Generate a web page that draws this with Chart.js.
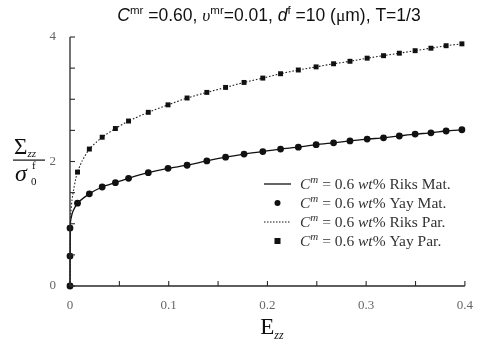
<!DOCTYPE html>
<html><head><meta charset="utf-8">
<script src="https://cdn.jsdelivr.net/npm/chart.js@4/dist/chart.umd.min.js"></script>
<style>html,body{margin:0;padding:0;background:#fff}#wrap{width:485px;height:344px;position:relative}</style>
</head><body><div id="wrap"><canvas id="c" width="485" height="344"></canvas></div>
<script>
// ---- data ----
const markerE = [0, 0, 0, 0.0076, 0.0196, 0.0326, 0.046, 0.0593, 0.0793, 0.0993, 0.1186, 0.1386, 0.1576, 0.1763, 0.1953, 0.2133, 0.2313, 0.2493, 0.267, 0.2836, 0.301, 0.3176, 0.3336, 0.3496, 0.3656, 0.381, 0.397];
const yayMat = [0, 0.48, 0.93, 1.33, 1.48, 1.59, 1.66, 1.73, 1.82, 1.89, 1.94, 2.01, 2.07, 2.12, 2.16, 2.20, 2.23, 2.27, 2.30, 2.33, 2.36, 2.38, 2.41, 2.44, 2.46, 2.49, 2.51];
const yayPar = [0, 0.48, 0.93, 1.83, 2.20, 2.39, 2.53, 2.65, 2.79, 2.91, 3.02, 3.11, 3.19, 3.27, 3.34, 3.41, 3.47, 3.52, 3.57, 3.61, 3.66, 3.70, 3.74, 3.78, 3.82, 3.86, 3.89];
const riksMatE = [0, 0.0005, 0.0015, 0.003, 0.0076, 0.0196, 0.0326, 0.046, 0.0593, 0.0793, 0.0993, 0.1186, 0.1386, 0.1576, 0.1763, 0.1953, 0.2133, 0.2313, 0.2493, 0.267, 0.2836, 0.301, 0.3176, 0.3336, 0.3496, 0.3656, 0.381, 0.397];
const riksMat = [0, 1.03, 1.12, 1.20, 1.33, 1.48, 1.59, 1.66, 1.73, 1.82, 1.89, 1.94, 2.01, 2.07, 2.12, 2.16, 2.20, 2.23, 2.27, 2.30, 2.33, 2.36, 2.38, 2.41, 2.44, 2.46, 2.49, 2.51];
const riksParE = [0, 0.0005, 0.001, 0.002, 0.0036, 0.0055, 0.0076, 0.012, 0.0196, 0.0326, 0.046, 0.0593, 0.0793, 0.0993, 0.1186, 0.1386, 0.1576, 0.1763, 0.1953, 0.2133, 0.2313, 0.2493, 0.267, 0.2836, 0.301, 0.3176, 0.3336, 0.3496, 0.3656, 0.381, 0.397];
const riksPar = [0, 1.03, 1.20, 1.38, 1.54, 1.70, 1.83, 2.00, 2.20, 2.39, 2.53, 2.65, 2.79, 2.91, 3.02, 3.11, 3.19, 3.27, 3.34, 3.41, 3.47, 3.52, 3.57, 3.61, 3.66, 3.70, 3.74, 3.78, 3.82, 3.86, 3.89];
const xTickLabels = ['0', '0.1', '0.2', '0.3', '0.4'];
const yTickLabels = ['0', '2', '4'];
const seriesNames = ['Riks Mat.', 'Yay Mat.', 'Riks Par.', 'Yay Par.'];

const pts = (xs, ys) => xs.map((x, i) => ({x: x, y: ys[i]}));
const SERIF = '"Liberation Serif", "DejaVu Serif", serif';
const SANS = '"Liberation Sans", Arial, sans-serif';

function drawRich(ctx, segs, x, y, align) {
  let w = 0;
  segs.forEach(s => { ctx.font = s.font; s.w = ctx.measureText(s.t).width; w += s.w + (s.dx || 0); });
  let cx = align === 'center' ? x - w / 2 : x;
  segs.forEach(s => {
    ctx.font = s.font;
    ctx.fillText(s.t, cx + (s.dx || 0), y + (s.dy || 0));
    cx += s.w + (s.dx || 0);
  });
  return w;
}

const decor = {
  id: 'decor',
  afterDraw(chart) {
    const ctx = chart.ctx;
    const xs = chart.scales.x, ys = chart.scales.y;
    const L = xs.left, R = xs.right, T = ys.top, B = ys.bottom;
    ctx.save();
    // axes
    ctx.strokeStyle = '#2a2a2a'; ctx.lineWidth = 1.3;
    ctx.beginPath(); ctx.moveTo(L, T); ctx.lineTo(L, B); ctx.lineTo(R, B); ctx.stroke();
    ctx.lineWidth = 1.1;
    xs.ticks.forEach(t => { const p = xs.getPixelForValue(t.value); ctx.beginPath(); ctx.moveTo(p, B); ctx.lineTo(p, B - 5); ctx.stroke(); });
    ys.ticks.forEach(t => { const p = ys.getPixelForValue(t.value); ctx.beginPath(); ctx.moveTo(L, p); ctx.lineTo(L + 5, p); ctx.stroke(); });

    // title
    ctx.fillStyle = '#111'; ctx.textBaseline = 'alphabetic';
    const f = '17.5px ' + SANS, fi = 'italic 17.5px ' + SANS, fs = '11.5px ' + SANS;
    drawRich(ctx, [
      {t: 'C', font: fi}, {t: 'mr', font: fs, dy: -7}, {t: ' =0.60, ', font: f},
      {t: 'υ', font: 'italic 17.5px ' + SERIF}, {t: 'mr', font: fs, dy: -7}, {t: '=0.01, ', font: f},
      {t: 'd', font: fi}, {t: 'f', font: fs, dy: -7}, {t: ' =10 (', font: f},
      {t: 'μ', font: '17.5px ' + SERIF}, {t: 'm), T=1/3', font: f}
    ], 269, 21, 'center');

    // y axis label (fraction)
    ctx.fillStyle = '#111';
    drawRich(ctx, [{t: 'Σ', font: '23px ' + SERIF}, {t: 'zz', font: 'italic 11px ' + SERIF, dy: 3}], 14, 154, 'left');
    ctx.fillRect(13, 159.5, 32, 1.2);
    drawRich(ctx, [{t: 'σ', font: 'italic 24px ' + SERIF}], 15, 181, 'left');
    ctx.font = '11px ' + SERIF; ctx.fillText('f', 32, 169); ctx.fillText('0', 31, 185);

    // x axis label
    drawRich(ctx, [{t: 'E', font: '23px ' + SERIF}, {t: 'zz', font: 'italic 12px ' + SERIF, dy: 5}], 272, 334, 'center');

    // legend
    const lx0 = 264, lx1 = 291, tx = 300;
    const rows = [184, 203, 222, 241];
    ctx.strokeStyle = '#111'; ctx.fillStyle = '#111';
    ctx.lineWidth = 1.3; ctx.setLineDash([]);
    ctx.beginPath(); ctx.moveTo(lx0, rows[0]); ctx.lineTo(lx1, rows[0]); ctx.stroke();
    ctx.beginPath(); ctx.arc((lx0 + lx1) / 2, rows[1], 3, 0, Math.PI * 2); ctx.fill();
    ctx.lineWidth = 1; ctx.setLineDash([1.5, 1.5]);
    ctx.beginPath(); ctx.moveTo(lx0, rows[2]); ctx.lineTo(lx1, rows[2]); ctx.stroke();
    ctx.setLineDash([]);
    ctx.fillRect((lx0 + lx1) / 2 - 3, rows[3] - 3, 6, 6);
    ctx.fillStyle = '#333'; ctx.textBaseline = 'middle';
    const lf = '15.5px ' + SERIF, lfi = 'italic 15.5px ' + SERIF;
    seriesNames.forEach((n, i) => {
      drawRich(ctx, [
        {t: 'C', font: lfi}, {t: 'm', font: 'italic 11px ' + SERIF, dy: -5}, {t: ' = 0.6 ', font: lf},
        {t: 'wt', font: lfi}, {t: '% ' + n, font: lf}
      ], tx, rows[i] + 1, 'left');
    });
    ctx.restore();
  }
};

new Chart(document.getElementById('c'), {
  type: 'scatter',
  data: {
    datasets: [
      {label: seriesNames[1], data: pts(markerE, yayMat), showLine: false, clip: false, pointStyle: 'circle', pointRadius: 3.4, backgroundColor: '#111', borderColor: '#111', borderWidth: 0},
      {label: seriesNames[3], data: pts(markerE, yayPar), showLine: false, clip: false, pointStyle: 'rect', pointRadius: 3.5, backgroundColor: '#111', borderColor: '#111', borderWidth: 0},
      {label: seriesNames[0], data: pts(riksMatE, riksMat), showLine: true, clip: false, pointRadius: 0, borderColor: '#111', borderWidth: 1.3, tension: 0.2},
      {label: seriesNames[2], data: pts(riksParE, riksPar), showLine: true, clip: false, pointRadius: 0, borderColor: '#222', borderWidth: 1.1, borderDash: [1.6, 1.8], tension: 0.2}
    ]
  },
  options: {
    responsive: false, animation: false, devicePixelRatio: 1,
    layout: {padding: {top: 37, right: 16, left: 0, bottom: 0}},
    plugins: {legend: {display: false}, tooltip: {enabled: false}, title: {display: false}},
    scales: {
      x: {
        type: 'linear', min: 0, max: 0.4,
        afterFit: s => { s.height = 58; },
        grid: {display: false, drawTicks: false}, border: {display: false},
        ticks: {stepSize: 0.05, autoSkip: false, maxRotation: 0, padding: 12, color: '#666', font: {family: SERIF, size: 13},
          callback: v => { const k = Math.round(v * 10); return Math.abs(v * 10 - k) < 1e-6 ? xTickLabels[k] : ''; }}
      },
      y: {
        type: 'linear', min: 0, max: 4,
        afterFit: s => { s.width = 70; },
        grid: {display: false, drawTicks: false}, border: {display: false},
        ticks: {stepSize: 0.5, autoSkip: false, padding: 14, color: '#666', font: {family: SERIF, size: 13},
          callback: v => { const k = Math.round(v / 2); return Math.abs(v / 2 - k) < 1e-6 ? yTickLabels[k] : ''; }}
      }
    }
  },
  plugins: [decor]
});
</script></body></html>
